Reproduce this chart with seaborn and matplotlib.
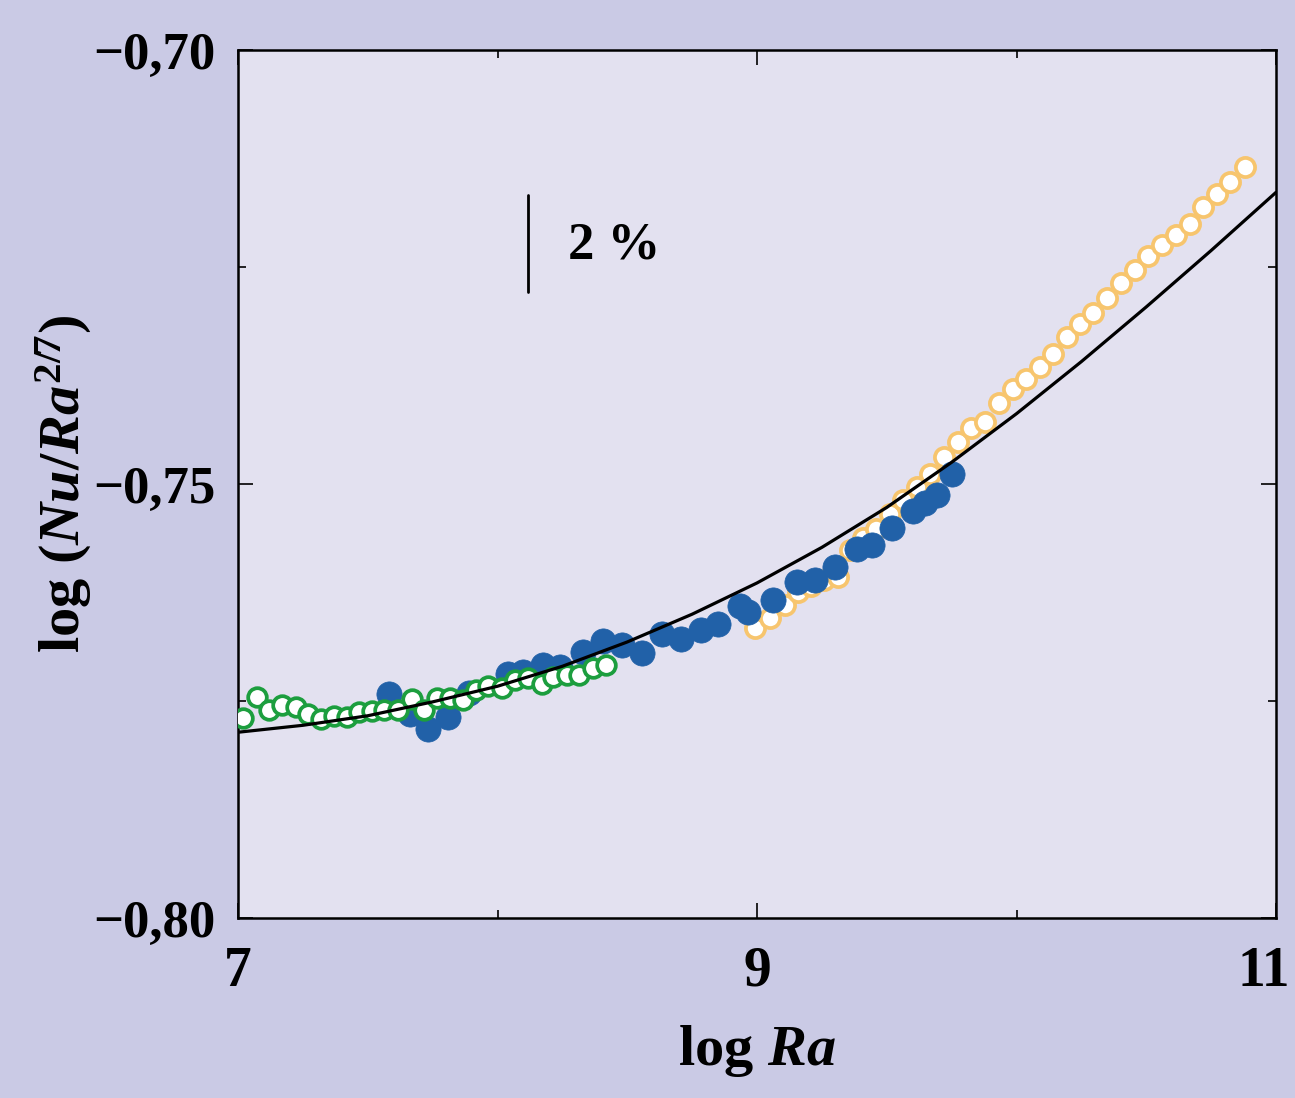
import numpy as np
import pandas as pd
import matplotlib
matplotlib.use("Agg")
import matplotlib.pyplot as plt
import matplotlib.transforms as mtransforms
import seaborn as sns

# ---------------- data ----------------
green_x = [7.019, 7.072, 7.121, 7.168, 7.222, 7.269, 7.319, 7.370, 7.419, 7.467,
           7.515, 7.564, 7.615, 7.669, 7.718, 7.766, 7.817, 7.868, 7.916, 7.965,
           8.016, 8.067, 8.119, 8.170, 8.215, 8.267, 8.315, 8.367, 8.417]
green_y = [-0.7770, -0.7745, -0.7760, -0.7755, -0.7757, -0.7765, -0.7771, -0.7767, -0.7769, -0.7763,
           -0.7762, -0.7760, -0.7760, -0.7748, -0.7760, -0.7746, -0.7746, -0.7749, -0.7737, -0.7733,
           -0.7735, -0.7726, -0.7723, -0.7730, -0.7722, -0.7720, -0.7720, -0.7712, -0.7709]

blue_x = [7.582, 7.663, 7.732, 7.809, 7.890, 8.040, 8.098, 8.175, 8.241, 8.329,
          8.407, 8.480, 8.557, 8.634, 8.707, 8.784, 8.850, 8.934, 8.965, 9.062,
          9.154, 9.224, 9.301, 9.385, 9.443, 9.520, 9.601, 9.647, 9.694, 9.751]
blue_y = [-0.7742, -0.7765, -0.7782, -0.7768, -0.7741, -0.7719, -0.7717, -0.7709, -0.7711, -0.7694,
          -0.7681, -0.7686, -0.7695, -0.7673, -0.7679, -0.7668, -0.7661, -0.7641, -0.7647, -0.7634,
          -0.7613, -0.7611, -0.7596, -0.7575, -0.7570, -0.7551, -0.7531, -0.7522, -0.7513, -0.7488]

orange_x = [8.992, 9.050, 9.108, 9.158, 9.208, 9.258, 9.312, 9.358, 9.408, 9.459,
            9.513, 9.563, 9.617, 9.667, 9.721, 9.775, 9.825, 9.879, 9.933, 9.987,
            10.037, 10.091, 10.141, 10.195, 10.245, 10.295, 10.349, 10.403, 10.457, 10.507,
            10.561, 10.615, 10.669, 10.719, 10.773, 10.823, 10.881]
orange_y = [-0.7666, -0.7654, -0.7639, -0.7624, -0.7618, -0.7611, -0.7607, -0.7576, -0.7562, -0.7552,
            -0.7535, -0.7518, -0.7503, -0.7488, -0.7469, -0.7452, -0.7435, -0.7429, -0.7407, -0.7391,
            -0.7379, -0.7365, -0.7350, -0.7331, -0.7316, -0.7303, -0.7286, -0.7268, -0.7253, -0.7237,
            -0.7225, -0.7213, -0.7200, -0.7181, -0.7166, -0.7152, -0.7135]

fit_x = [7.0, 7.25, 7.5, 7.75, 8.0, 8.25, 8.5, 8.75, 9.0, 9.25, 9.5, 9.75,
         10.0, 10.25, 10.5, 10.75, 11.0]
fit_y = [-0.7786, -0.7778, -0.7767, -0.7751, -0.7733, -0.7710, -0.7682, -0.7650, -0.7614,
         -0.7573, -0.7527, -0.7475, -0.7419, -0.7359, -0.7296, -0.7231, -0.7164]

x_ticks = [7, 9, 11]
x_ticklabels = ["7", "9", "11"]
y_ticks = [-0.80, -0.75, -0.70]
y_ticklabels = ["\u22120,80", "\u22120,75", "\u22120,70"]

# ---------------- styling ----------------
sns.set_theme(style="ticks")
plt.rcParams["font.family"] = ["Liberation Serif", "DejaVu Serif"]
plt.rcParams["font.weight"] = "bold"
plt.rcParams["mathtext.fontset"] = "custom"
plt.rcParams["mathtext.rm"] = "Liberation Serif:bold"
plt.rcParams["mathtext.it"] = "Liberation Serif:italic:bold"
plt.rcParams["mathtext.bf"] = "Liberation Serif:bold"
plt.rcParams["text.color"] = "black"
plt.rcParams["axes.labelcolor"] = "black"
plt.rcParams["xtick.color"] = "black"
plt.rcParams["ytick.color"] = "black"

FIG_BG = "#CACAE5"
AX_BG = "#E3E1F0"
BLUE = "#2161A8"
GREEN = "#1C9E3E"
ORANGE = "#F7C56E"

fig = plt.figure(figsize=(12.95, 10.98), dpi=100, facecolor=FIG_BG)
ax = fig.add_axes([238 / 1295, 1 - 918 / 1098, (1276 - 238) / 1295, (918 - 50) / 1098])
ax.set_facecolor(AX_BG)

df_o = pd.DataFrame({"x": orange_x, "y": orange_y})
df_b = pd.DataFrame({"x": blue_x, "y": blue_y})
df_g = pd.DataFrame({"x": green_x, "y": green_y})
df_f = pd.DataFrame({"x": fit_x, "y": fit_y})

sns.scatterplot(data=df_o, x="x", y="y", ax=ax, s=190, marker="o",
                facecolor="white", edgecolor=ORANGE, linewidth=2.7, zorder=2)
sns.scatterplot(data=df_b, x="x", y="y", ax=ax, s=330, marker="o",
                color=BLUE, edgecolor=BLUE, linewidth=0.5, zorder=3)
sns.scatterplot(data=df_g, x="x", y="y", ax=ax, s=180, marker="o",
                facecolor="white", edgecolor=GREEN, linewidth=2.7, zorder=4)
sns.lineplot(data=df_f, x="x", y="y", ax=ax, color="black", linewidth=2.3,
             zorder=5, estimator=None, sort=True)

# 2 % scale bar
ax.plot([8.118, 8.118], [-0.7167, -0.7279], color="black", linewidth=2.0, zorder=6)
ax.text(8.272, -0.7225, "2 %", fontsize=38, fontweight="bold", va="center",
        ha="left", color="black")

ax.set_xlim(7, 11)
ax.set_ylim(-0.80, -0.70)
ax.set_xticks(x_ticks)
ax.set_xticklabels(x_ticklabels)
ax.set_yticks(y_ticks)
ax.set_yticklabels(y_ticklabels)
ax.set_xticks([8, 10], minor=True)
ax.set_yticks([-0.775, -0.725], minor=True)

ax.tick_params(which="both", direction="in", top=True, right=True,
               color="black", labelcolor="black", width=1.2)
ax.tick_params(which="major", length=11)
ax.tick_params(which="minor", length=6)
ax.tick_params(axis="x", which="major", labelsize=40, pad=20)
ax.tick_params(axis="y", which="major", labelsize=38, pad=16)
for lab in ax.get_xticklabels() + ax.get_yticklabels():
    lab.set_fontweight("bold")

# keep the last x label inside the figure
last = ax.get_xticklabels()[-1]
last.set_horizontalalignment("right")
last.set_transform(last.get_transform() +
                   mtransforms.ScaledTranslation(14 / 100, 0, fig.dpi_scale_trans))

for sp in ax.spines.values():
    sp.set_linewidth(1.8)
    sp.set_color("black")
    sp.set_visible(True)

ax.set_xlabel("log $Ra$", fontsize=42, fontweight="bold", labelpad=18, color="black")
ax.set_ylabel("log $(Nu/Ra^{2/7})$", fontsize=42, fontweight="bold", labelpad=0, color="black")

fig.savefig("out.png", dpi=100, facecolor=FIG_BG)
